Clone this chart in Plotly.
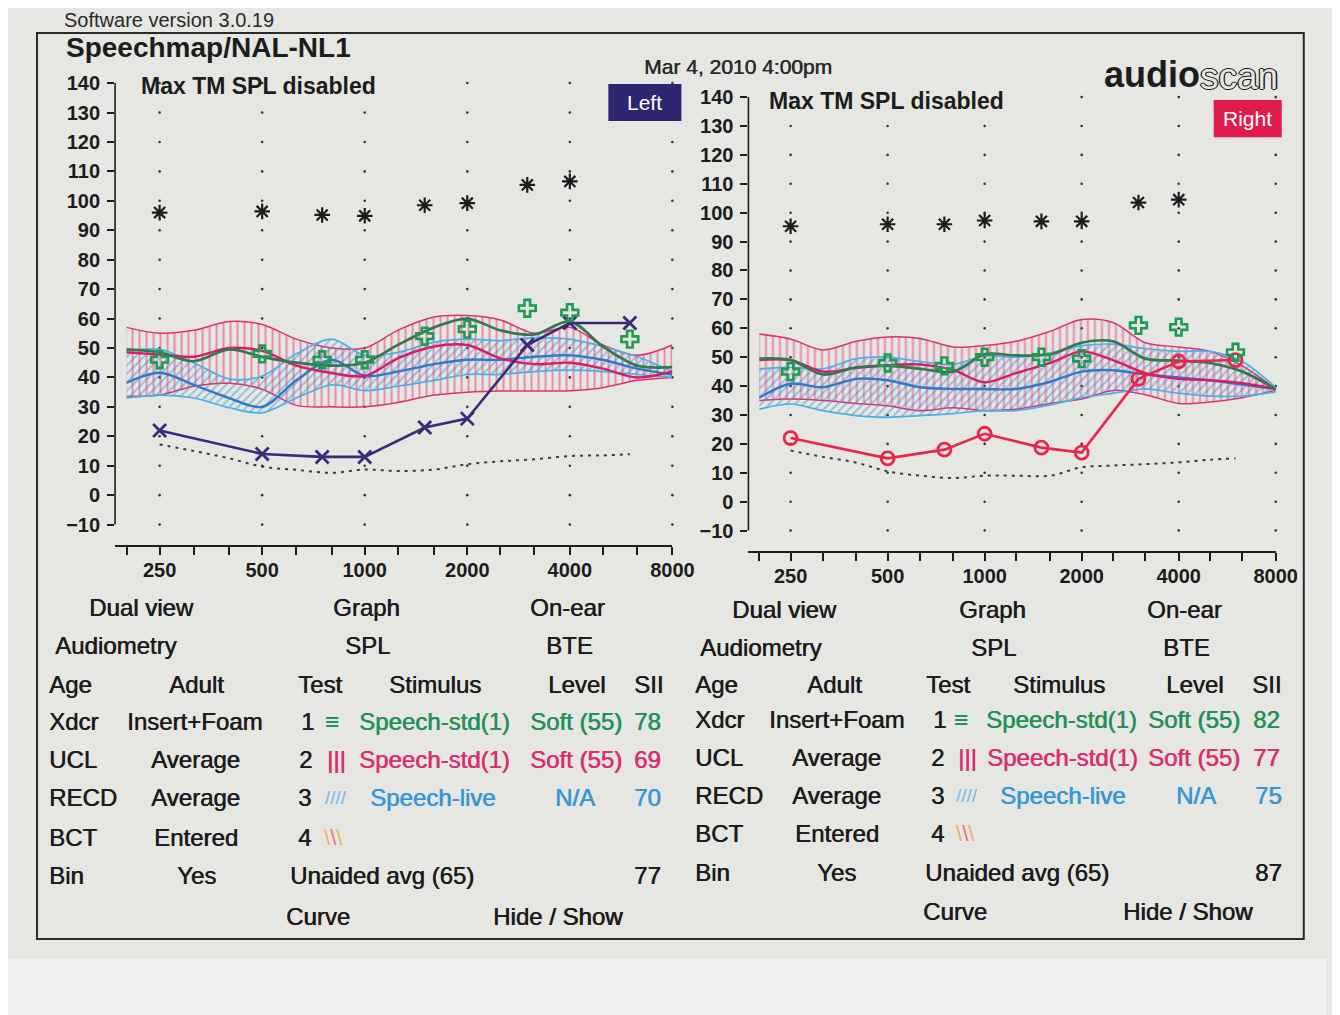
import math
import plotly.graph_objects as go

FW, FH = 1340, 1015
FONT = "Liberation Sans, Arial, sans-serif"

# ---------------- data ----------------
freqs = [200, 250, 315, 400, 500, 630, 800, 1000, 1250, 1600, 2000, 2500, 3150, 4000, 5000, 6300, 8000]

# Left ear (test 2 pink band, test 3 blue band, test 1 green average)
L_pink_hi  = [57, 55, 56, 59, 58, 53, 50, 50, 56, 60.5, 61, 59.5, 55, 57, 51, 47.5, 51]
L_pink_lo  = [33.5, 34, 37, 38, 36, 30.5, 30, 30, 31.5, 34, 35, 35.4, 35.4, 35.5, 36.5, 39, 40]
L_pink_mid = [48.5, 47.8, 47, 50, 49, 44, 41.5, 40.5, 46.5, 50.5, 51, 46.5, 44.5, 45, 43, 40, 42]
L_blue_hi  = [49, 49.5, 45, 39.5, 40.5, 48, 53, 47.5, 48.5, 52, 53, 52.5, 53.5, 53, 50.5, 47, 42]
L_blue_lo  = [33, 34, 33, 29.7, 28, 33, 37.5, 35.5, 37, 39, 41, 41, 42, 42.5, 42, 41, 40]
L_blue_mid = [38.2, 41.6, 37.5, 33, 30, 39, 46, 40.5, 42, 44.5, 46, 46, 47, 47.5, 46, 43, 41]
L_green    = [49.5, 48.5, 45.5, 49.5, 47, 45, 44, 45, 51, 57, 60, 56, 54.6, 59, 50.5, 44, 43.5]

# Right ear
R_pink_hi  = [58, 56.3, 52.5, 55.5, 57, 56.5, 53.5, 54, 55.5, 59, 63, 62, 55, 53.5, 52, 47, 39]
R_pink_lo  = [35, 35.5, 35, 34, 33.2, 31.5, 32.5, 31.5, 32, 34, 35.5, 38.5, 37, 34, 34.5, 36, 38.5]
R_pink_mid = [49, 49, 45, 46.3, 47.2, 47.5, 45.5, 41.3, 44.5, 48, 52, 49, 44.5, 42.5, 42, 41, 39]
R_blue_hi  = [46, 46.5, 46, 49.5, 50, 48.5, 47.5, 50.5, 50, 51.5, 54, 54.5, 53, 52, 52, 48.5, 39.5]
R_blue_lo  = [32, 33.8, 31.5, 29.8, 29.2, 29.8, 30.5, 31.5, 31.5, 33.5, 36, 37.5, 39, 37.5, 36.5, 36.5, 38]
R_blue_mid = [36, 40.8, 39.6, 42.5, 42, 39.6, 39, 39, 39, 41.5, 45, 45.5, 44, 43, 42, 40.5, 39]
R_green    = [49.5, 49, 44, 46.5, 47, 46, 45, 51, 50.6, 51, 55, 55.5, 49.5, 48.8, 48, 45, 39]

# Audiometric thresholds (dB SPL)
aud_freqs = [250, 500, 750, 1000, 1500, 2000, 3000, 4000, 6000]
L_thresh = [22, 14, 13, 13, 23, 26, 51, 58.5, 58.5]
R_thresh = [22, 15, 18, 23.5, 18.7, 17, 42.5, 48.5, 49]

# NAL-NL1 soft speech targets
tgt_freqs = [250, 500, 750, 1000, 1500, 2000, 3000, 4000, 6000]
L_target = [46, 48, 46, 46, 54, 56.4, 63.5, 62, 53]
R_target = [45, 48, 47, 50, 50, 49.5, 61, 60.4, 51.7]

# UCL (asterisks)
ucl_freqs = [250, 500, 750, 1000, 1500, 2000, 3000, 4000]
L_ucl = [96, 96.4, 95.2, 94.9, 98.5, 99.2, 105.4, 106.6]
R_ucl = [95.3, 96, 96, 97.3, 97, 97, 103.5, 104.5]

# Normal hearing threshold (dotted)
nh_freqs = [250, 315, 400, 500, 630, 800, 1000, 1250, 1600, 2000, 2500, 3150, 4000, 5000, 6000]
L_nh = [17.2, 15, 12.5, 9.7, 8.6, 7.6, 8.7, 8.2, 8.7, 10.5, 11.5, 12.2, 13.3, 13.5, 13.9]
R_nh = [17.7, 15.5, 13.5, 10.5, 9, 8.2, 9, 9, 9, 11.9, 12.5, 13, 13.6, 14.5, 15]

# Axes
grid_freqs = [250, 500, 1000, 2000, 4000, 8000]
y_ticks = list(range(-10, 141, 10))
x_tick_vals = freqs
x_tick_text = ['', '250', '', '', '500', '', '', '1000', '', '', '2000', '', '', '4000', '', '', '8000']

SII_left = ['78', '69', '70', '77']
SII_right = ['82', '77', '75', '87']

# ---------------- colours ----------------
PINK = '#e2306f'
PINK_LINE = '#dc1a66'
BLUE_EDGE = '#48b2e6'
BLUE_HATCH = '#3590d4'
BLUE_LINE = '#2c7ad0'
GREEN_LINE = '#33784e'
GREEN_T = '#1f9a52'
PURPLE = '#3b2a78'
RED = '#e8264c'
INK = '#1c1c1c'
BG = '#e6e6e2'

# screen-position calibration (page offset / scale measured from earlier renders)
SX, OX = 0.983, 8.0
SY, OY = 0.991, 16.0


def px_x(X):
    return ((X - OX) / SX) / FW


def px_y(Y):
    return 1 - ((Y - OY) / SY) / FH


fig = go.Figure()


def add_panel(xa, ya, pink_hi, pink_lo, pink_mid, blue_hi, blue_lo, blue_mid, green,
              thresh, th_symbol, th_color, target, ucl, nh):
    common = dict(xaxis=xa, yaxis=ya, showlegend=False, hoverinfo='skip')
    gx, gy = [], []
    for f in grid_freqs:
        for v in y_ticks:
            gx.append(f)
            gy.append(v)
    fig.add_trace(go.Scatter(x=gx, y=gy, mode='markers', cliponaxis=False,
                             marker=dict(size=2.6, color='#333333'), **common))
    fig.add_trace(go.Scatter(x=freqs, y=pink_hi, mode='lines',
                             line=dict(color=PINK, width=1.5, shape='spline', smoothing=0.9), **common))
    fig.add_trace(go.Scatter(x=freqs, y=pink_lo, mode='lines',
                             line=dict(color=PINK, width=1.5, shape='spline', smoothing=0.9),
                             fill='tonexty', fillcolor='rgba(0,0,0,0)',
                             fillpattern=dict(shape='|', fgcolor=PINK, bgcolor='rgba(0,0,0,0)',
                                              size=7, solidity=0.28), **common))
    fig.add_trace(go.Scatter(x=freqs, y=blue_hi, mode='lines',
                             line=dict(color=BLUE_EDGE, width=1.7, shape='spline', smoothing=0.9), **common))
    fig.add_trace(go.Scatter(x=freqs, y=blue_lo, mode='lines',
                             line=dict(color=BLUE_EDGE, width=1.7, shape='spline', smoothing=0.9),
                             fill='tonexty', fillcolor='rgba(0,0,0,0)',
                             fillpattern=dict(shape='/', fgcolor=BLUE_HATCH, bgcolor='rgba(0,0,0,0)',
                                              size=6, solidity=0.3), **common))
    fig.add_trace(go.Scatter(x=freqs, y=blue_mid, mode='lines',
                             line=dict(color=BLUE_LINE, width=2.4, shape='spline', smoothing=0.9), **common))
    fig.add_trace(go.Scatter(x=freqs, y=pink_mid, mode='lines',
                             line=dict(color=PINK_LINE, width=2.4, shape='spline', smoothing=0.9), **common))
    fig.add_trace(go.Scatter(x=freqs, y=green, mode='lines',
                             line=dict(color=GREEN_LINE, width=2.7, shape='spline', smoothing=0.9), **common))
    fig.add_trace(go.Scatter(x=nh_freqs, y=nh, mode='lines',
                             line=dict(color='#3a3a3a', width=2, dash='3px,5px', shape='spline'), **common))
    fig.add_trace(go.Scatter(x=aud_freqs, y=thresh, mode='lines+markers',
                             line=dict(color=th_color, width=2.6),
                             marker=dict(symbol=th_symbol, size=13, color=th_color,
                                         line=dict(color=th_color, width=2.8)), **common))
    fig.add_trace(go.Scatter(x=tgt_freqs, y=target, mode='markers',
                             marker=dict(symbol='cross-open', size=14, color=GREEN_T,
                                         line=dict(color=GREEN_T, width=2.6)), **common))
    fig.add_trace(go.Scatter(x=ucl_freqs, y=ucl, mode='markers',
                             marker=dict(symbol='asterisk-open', size=13, color=INK,
                                         line=dict(color=INK, width=2.2)), **common))


add_panel('x', 'y', L_pink_hi, L_pink_lo, L_pink_mid, L_blue_hi, L_blue_lo, L_blue_mid, L_green,
          L_thresh, 'x-thin-open', PURPLE, L_target, L_ucl, L_nh)
add_panel('x2', 'y2', R_pink_hi, R_pink_lo, R_pink_mid, R_blue_hi, R_blue_lo, R_blue_mid, R_green,
          R_thresh, 'circle-open', RED, R_target, R_ucl, R_nh)

xr = [math.log10(185), math.log10(8000)]
yr = [-17, 141]


def xaxis_cfg(x0, x1, anchor):
    return dict(type='log', range=xr, domain=[px_x(x0), px_x(x1)], anchor=anchor,
                tickmode='array', tickvals=x_tick_vals, ticktext=x_tick_text,
                ticks='outside', ticklen=8, tickwidth=1.5, tickcolor=INK,
                showline=True, linewidth=1.5, linecolor=INK, showgrid=False, zeroline=False,
                ticklabelstandoff=-2,
                tickfont=dict(family=FONT, size=20, color=INK, weight='bold'), fixedrange=True)


def yaxis_cfg(ytop, ybot, anchor):
    return dict(range=yr, domain=[px_y(ybot), px_y(ytop)], anchor=anchor,
                tickmode='array', tickvals=y_ticks,
                ticks='outside', ticklen=7, tickwidth=1.5, tickcolor=INK,
                showline=False, showgrid=False, zeroline=False, ticklabelstandoff=3,
                tickfont=dict(family=FONT, size=20, color=INK, weight='bold'), fixedrange=True)


fig.update_layout(
    xaxis=xaxis_cfg(115, 672, 'y'),
    yaxis=yaxis_cfg(80.06, 544.6, 'x'),
    xaxis2=xaxis_cfg(748, 1275, 'y2'),
    yaxis2=yaxis_cfg(94.1, 550.2, 'x2'),
)

shapes = []
shapes.append(dict(type='rect', xref='paper', yref='paper', x0=0, x1=1, y0=0, y1=px_y(958),
                   fillcolor='#f1f1ef', line=dict(width=0), layer='below'))
shapes.append(dict(type='rect', xref='paper', yref='paper', x0=px_x(37), x1=px_x(1303),
                   y0=px_y(938), y1=px_y(33), line=dict(color='#2a2a2a', width=2)))
for xd, yy in (('x domain', 'y'), ('x2 domain', 'y2')):
    shapes.append(dict(type='line', xref=xd, yref=yy, x0=0, x1=0, y0=-10, y1=140,
                       line=dict(color=INK, width=1.6)))
shapes.append(dict(type='rect', xref='paper', yref='paper', x0=px_x(608), x1=px_x(681),
                   y0=px_y(121), y1=px_y(84), fillcolor='#2e2670', line=dict(width=0)))
shapes.append(dict(type='rect', xref='paper', yref='paper', x0=px_x(1213), x1=px_x(1281),
                   y0=px_y(137), y1=px_y(100), fillcolor='#e01c4c', line=dict(width=0)))

ann = []


def txt(s, x, y, color=INK, size=24, anchor='left', weight='normal', fam=FONT, shadow=None):
    f = dict(family=fam, size=size, color=color, weight=weight)
    if shadow:
        f['shadow'] = shadow
    ann.append(dict(text=s, x=px_x(x), y=px_y(y), xref='paper', yref='paper',
                    xanchor=anchor, yanchor='middle', showarrow=False, font=f))


def thick(c):
    return '0.6px 0 0 %s' % c


txt('Software version 3.0.19', 62, 20, size=20, color='#2a2a2a')
txt('Speechmap/NAL-NL1', 64, 47, size=28, weight='bold')
txt('Mar 4, 2010 4:00pm', 642, 66, size=21, color='#2a2a2a', shadow=thick('#2a2a2a'))
txt('Max TM SPL disabled', 139, 86, size=23, weight='bold')
txt('Max TM SPL disabled', 767, 101, size=23, weight='bold')
txt('Left', 644, 102, size=21, color='white', anchor='center')
txt('Right', 1247, 118, size=21, color='white', anchor='center')
txt('audio', 1201, 74, size=36, weight='bold', anchor='right')
txt('scan', 1197, 76, size=37, color=BG, anchor='left',
    shadow='1.3px 0 0 #111, -1.3px 0 0 #111, 0 1.3px 0 #111, 0 -1.3px 0 #111')

GT, PT, BT = '#23905a', '#d92f70', '#3796d6'
HATCH3 = '#7ab8e0'
icon4 = ('<span style="color:#f2b060">\\</span><span style="color:#ef7090">\\</span>'
         '<span style="color:#f2b060">\\</span>')

# info blocks: (row y, [(text, x, colour)])
left_rows = [
    (607, [('Dual view', 87, INK), ('Graph', 331, INK), ('On-ear', 528, INK)]),
    (645, [('Audiometry', 53, INK), ('SPL', 343, INK), ('BTE', 544, INK)]),
    (684, [('Age', 47, INK), ('Adult', 167, INK), ('Test', 296, INK), ('Stimulus', 387, INK),
           ('Level', 546, INK), ('SII', 632, INK)]),
    (721, [('Xdcr', 47, INK), ('Insert+Foam', 125, INK), ('1', 299, INK), ('\u2261', 323, GT),
           ('Speech-std(1)', 357, GT), ('Soft (55)', 528, GT), (SII_left[0], 632, GT)]),
    (759, [('UCL', 47, INK), ('Average', 149, INK), ('2', 297, INK), ('|||', 325, PT),
           ('Speech-std(1)', 357, PT), ('Soft (55)', 528, PT), (SII_left[1], 632, PT)]),
    (797, [('RECD', 47, INK), ('Average', 149, INK), ('3', 296, INK), ('////', 323, HATCH3),
           ('Speech-live', 368, BT), ('N/A', 553, BT), (SII_left[2], 632, BT)]),
    (837, [('BCT', 47, INK), ('Entered', 152, INK), ('4', 296, INK), (icon4, 322, INK)]),
    (875, [('Bin', 47, INK), ('Yes', 175, INK), ('Unaided avg (65)', 288, INK), (SII_left[3], 632, INK)]),
    (915, [('Curve', 284, INK), ('Hide / Show', 491, INK)]),
]
right_rows = [
    (609, [('Dual view', 730, INK), ('Graph', 956, INK), ('On-ear', 1144, INK)]),
    (647, [('Audiometry', 698, INK), ('SPL', 968, INK), ('BTE', 1160, INK)]),
    (684, [('Age', 693, INK), ('Adult', 805, INK), ('Test', 923, INK), ('Stimulus', 1010, INK),
           ('Level', 1163, INK), ('SII', 1249, INK)]),
    (719, [('Xdcr', 693, INK), ('Insert+Foam', 767, INK), ('1', 930, INK), ('\u2261', 951, GT),
           ('Speech-std(1)', 983, GT), ('Soft (55)', 1145, GT), (SII_right[0], 1250, GT)]),
    (757, [('UCL', 693, INK), ('Average', 790, INK), ('2', 928, INK), ('|||', 955, PT),
           ('Speech-std(1)', 984, PT), ('Soft (55)', 1145, PT), (SII_right[1], 1250, PT)]),
    (795, [('RECD', 693, INK), ('Average', 790, INK), ('3', 928, INK), ('////', 953, HATCH3),
           ('Speech-live', 997, BT), ('N/A', 1173, BT), (SII_right[2], 1252, BT)]),
    (833, [('BCT', 693, INK), ('Entered', 793, INK), ('4', 928, INK), (icon4, 953, INK)]),
    (872, [('Bin', 693, INK), ('Yes', 815, INK), ('Unaided avg (65)', 922, INK), (SII_right[3], 1252, INK)]),
    (910, [('Curve', 920, INK), ('Hide / Show', 1120, INK)]),
]

for rows in (left_rows, right_rows):
    for y, items in rows:
        for s, x, c in items:
            if s == '////':
                txt(s, x, y, color=c, size=19)
            elif s.startswith('<span'):
                txt(s, x, y, color=c, size=22)
            else:
                txt(s, x, y, color=c, size=24, shadow=thick(c))

fig.update_layout(
    width=FW, height=FH, margin=dict(l=0, r=0, t=0, b=0),
    paper_bgcolor=BG, plot_bgcolor='rgba(0,0,0,0)',
    shapes=shapes, annotations=ann, showlegend=False,
    font=dict(family=FONT, color=INK),
)

fig.write_html('out.html')
